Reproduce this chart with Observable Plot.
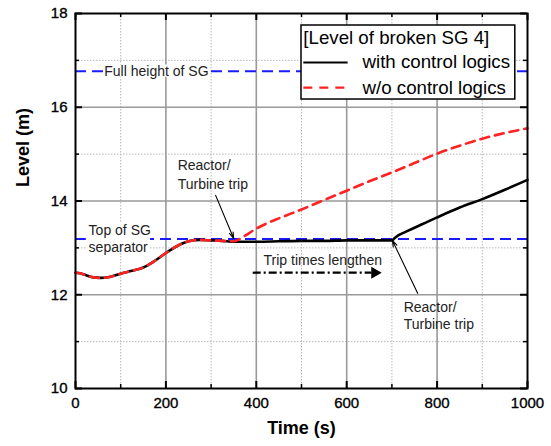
<!DOCTYPE html>
<html><head><meta charset="utf-8">
<script src="https://cdn.jsdelivr.net/npm/d3@7"></script>
<script src="https://cdn.jsdelivr.net/npm/@observablehq/plot@0.6"></script>
<style>
body{margin:0;background:#fff;}
#chart svg{font-family:"Liberation Sans",Arial,sans-serif;}
#chart g[aria-label="x-axis tick label"] text,#chart g[aria-label="y-axis tick label"] text{stroke:#000;stroke-width:0.35px;}
</style></head><body><div id="chart"></div>
<script>
// ---- data ----
const withTime  = [0,10,25,40,55,75,100,125,150,175,200,225,250,275,300,325,350,375,400,450,500,550,600,650,700,705,715,730,750,775,800,850,900,950,1000];
const withLevel = [12.47,12.46,12.41,12.37,12.36,12.38,12.45,12.51,12.58,12.72,12.89,13.04,13.14,13.17,13.16,13.15,13.13,13.13,13.13,13.14,13.15,13.15,13.16,13.16,13.16,13.20,13.27,13.34,13.43,13.54,13.65,13.86,14.04,14.24,14.45];
const woTime    = [0,10,25,40,55,75,100,125,150,175,200,225,250,275,300,325,350,360,375,400,425,450,500,550,600,650,700,750,800,850,900,950,1000];
const woLevel   = [12.47,12.46,12.41,12.37,12.36,12.38,12.45,12.51,12.58,12.72,12.89,13.04,13.14,13.17,13.16,13.15,13.14,13.17,13.26,13.41,13.53,13.63,13.82,14.02,14.22,14.42,14.61,14.81,15.01,15.18,15.33,15.45,15.55];
const refNames  = ["Full height of SG","Top of SG separator"];
const refLevels = [16.77,13.19];
const xTicks    = [0,200,400,600,800,1000];
const xMinor    = [100,300,500,700,900];
const yTicks    = [10,12,14,16,18];
const yMinor    = [11,13,15,17];
const legendTitle = "[Level of broken SG 4]";
const seriesNames = ["with control logics","w/o control logics"];

// ---- layout (annotation anchors in data space) ----
const notes = [
  {x:226, y:14.76, text:"Reactor/"},
  {x:226, y:14.35, text:"Turbine trip"},
  {x:29,  y:13.37, text:"Top of SG"},
  {x:29,  y:13.01, text:"separator"},
  {x:416, y:12.73, text:"Trip times lengthen"},
  {x:726, y:11.73, text:"Reactor/"},
  {x:726, y:11.37, text:"Turbine trip"}
];
const arrows = [
  {x1:310, y1:14.12, x2:350, y2:13.20},
  {x1:757, y1:12.03, x2:701, y2:13.16}
];
const labelBoxes = [
  {x1:67, x2:292, y1:16.64, y2:16.90},
  {x1:24, x2:166, y1:12.88, y2:13.52}
];

const W = 551, H = 446, mL = 75, mR = 24, mT = 13, mB = 58;
const iw = W - mL - mR, ih = H - mT - mB;

const withData = withTime.map((t,i)=>({t, v:withLevel[i]}));
const woData = woTime.map((t,i)=>({t, v:woLevel[i]}));
const refData = refNames.map((n,i)=>({name:n, level:refLevels[i]}));

const chart = Plot.plot({
  width: W, height: H,
  marginLeft: mL, marginRight: mR, marginTop: mT, marginBottom: mB,
  x: {domain:[0,1000]},
  y: {domain:[10,18]},
  style: {fontFamily:'"Liberation Sans",Arial,sans-serif', background:"#fff", color:"#000"},
  marks: [
    Plot.gridX(xMinor, {stroke:"#b8b8b8", strokeOpacity:1, strokeWidth:1, strokeDasharray:"1.5,1.5"}),
    Plot.gridY(yMinor, {stroke:"#b8b8b8", strokeOpacity:1, strokeWidth:1, strokeDasharray:"1.5,1.5"}),
    Plot.gridX(xTicks.slice(1,-1), {stroke:"#9a9a9a", strokeOpacity:1, strokeWidth:1.6}),
    Plot.gridY(yTicks.slice(1,-1), {stroke:"#9a9a9a", strokeOpacity:1, strokeWidth:1.6}),
    // inward ticks
    Plot.tickX(xTicks, {x:d=>d, insetTop: ih-7, stroke:"#000", strokeWidth:2}),
    Plot.tickX(xTicks, {x:d=>d, insetBottom: ih-7, stroke:"#000", strokeWidth:2}),
    Plot.tickX(xMinor, {x:d=>d, insetTop: ih-4, stroke:"#000", strokeWidth:1.5}),
    Plot.tickX(xMinor, {x:d=>d, insetBottom: ih-4, stroke:"#000", strokeWidth:1.5}),
    Plot.tickY(yTicks, {y:d=>d, insetRight: iw-7, stroke:"#000", strokeWidth:2}),
    Plot.tickY(yTicks, {y:d=>d, insetLeft: iw-7, stroke:"#000", strokeWidth:2}),
    Plot.tickY(yMinor, {y:d=>d, insetRight: iw-4, stroke:"#000", strokeWidth:1.5}),
    Plot.tickY(yMinor, {y:d=>d, insetLeft: iw-4, stroke:"#000", strokeWidth:1.5}),
    Plot.axisX({ticks:xTicks, tickSize:0, tickPadding:9, fontSize:15, label:null, tickFormat:d=>String(d)}),
    Plot.axisY({ticks:yTicks, tickSize:0, tickPadding:8, fontSize:15, label:null, tickFormat:d=>String(d)}),
    // reference lines
    Plot.ruleY(refData, {y:"level", stroke:"#1a1aff", strokeWidth:2, strokeDasharray:"11,6"}),
    Plot.rect(labelBoxes, {x1:"x1", x2:"x2", y1:"y1", y2:"y2", fill:"#fff"}),
    Plot.text([refData[0]], {x:()=>179, y:"level", text:"name", fontSize:14, fill:"#222", textAnchor:"middle"}),
    // curves
    Plot.line(withData, {x:"t", y:"v", stroke:"#000", strokeWidth:2.6, curve:"monotone-x"}),
    Plot.line(woData, {x:"t", y:"v", stroke:"#ff2222", strokeWidth:2.6, strokeDasharray:"9,6", curve:"monotone-x"}),
    // annotations
    Plot.text(notes, {x:"x", y:"y", text:"text", fontSize:14, fill:"#222", textAnchor:"start"}),
    Plot.arrow(arrows, {x1:"x1", y1:"y1", x2:"x2", y2:"y2", stroke:"#000", strokeWidth:1.1, headLength:9, headAngle:35}),
    Plot.link([{x1:392, x2:655, y:12.47}], {x1:"x1", x2:"x2", y1:"y", y2:"y", stroke:"#000", strokeWidth:2.2, strokeDasharray:"8,3,2,3"}),
    Plot.dot([{x:662, y:12.47}], {x:"x", y:"y", symbol:"triangle", rotate:90, r:4.5, fill:"#000", stroke:null}),
    // legend
    Plot.rect([{x1:500, x2:973, y1:16.165, y2:17.744}], {x1:"x1", x2:"x2", y1:"y1", y2:"y2", fill:"#fff", stroke:"#000", strokeWidth:1.5}),
    Plot.text([legendTitle], {x:()=>504, y:()=>17.467, text:d=>d, fontSize:18.7, fill:"#000", textAnchor:"start"}),
    Plot.link([{y:16.955}], {x1:()=>504, x2:()=>602, y1:"y", y2:"y", stroke:"#000", strokeWidth:2}),
    Plot.link([{y:16.42}], {x1:()=>504, x2:()=>602, y1:"y", y2:"y", stroke:"#ff2222", strokeWidth:2.2, strokeDasharray:"9,7"}),
    Plot.text(seriesNames, {x:()=>635, y:(d,i)=>[16.955,16.42][i], text:d=>d, fontSize:18.7, fill:"#000", textAnchor:"start"}),
    // frame & axis titles
    Plot.frame({stroke:"#000", strokeWidth:2}),
    Plot.text(["Level (m)"], {frameAnchor:"left", text:d=>d, rotate:-90, dx:-52, dy:-14, fontSize:18, fontWeight:"bold", fill:"#000"}),
    Plot.text(["Time (s)"], {frameAnchor:"bottom", text:d=>d, dy:45, fontSize:18, fontWeight:"bold", fill:"#000"})
  ]
});
document.getElementById("chart").appendChild(chart);
</script></body></html>
